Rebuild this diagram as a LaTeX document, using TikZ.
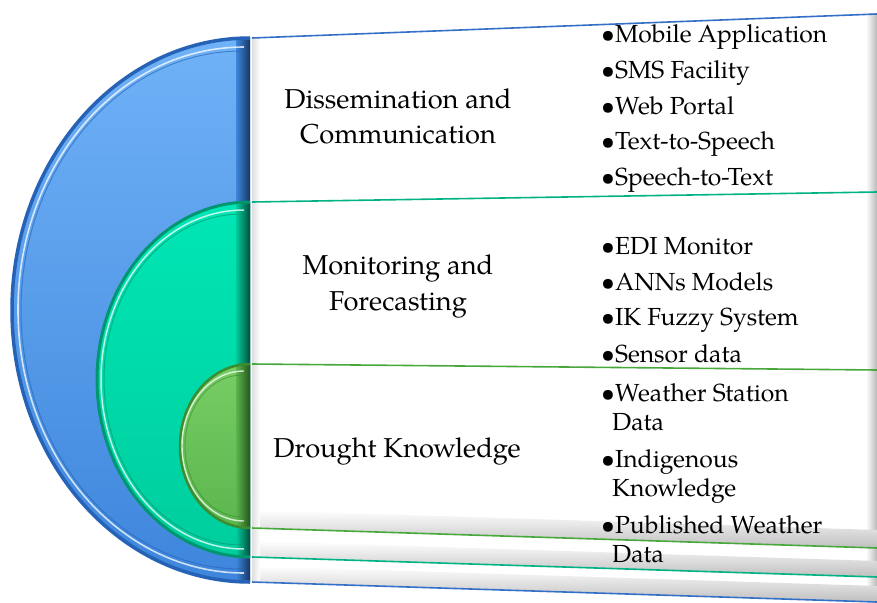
\documentclass[tikz,border=0pt]{standalone}
\usepackage{fontspec}
\setmainfont{TeX Gyre Pagella}
\definecolor{blueA}{RGB}{112,178,247}
\definecolor{blueB}{RGB}{62,134,220}
\definecolor{blueRim}{RGB}{38,98,182}
\definecolor{blueDark}{RGB}{18,48,92}
\definecolor{blueLine}{RGB}{52,112,200}
\definecolor{tealA}{RGB}{0,230,180}
\definecolor{tealB}{RGB}{0,205,158}
\definecolor{tealRim}{RGB}{0,150,112}
\definecolor{tealDark}{RGB}{0,70,50}
\definecolor{tealLine}{RGB}{0,178,132}
\definecolor{greenA}{RGB}{118,205,100}
\definecolor{greenB}{RGB}{92,182,78}
\definecolor{greenRim}{RGB}{60,140,48}
\definecolor{greenDark}{RGB}{34,80,22}
\definecolor{greenLine}{RGB}{72,168,60}
\tikzset{
  titletext/.style={font=\fontsize{27.3}{33}\selectfont, inner sep=0pt, anchor=base},
  itemtext/.style={font=\fontsize{24.7}{30}\selectfont, inner sep=0pt, anchor=base west},
  bandline/.style={line width=1.6pt},
}
\begin{document}
\begin{tikzpicture}[x=1pt,y=-1pt]
\useasboundingbox (0,0) rectangle (877,602);
% ---------- bands ----------
% blue band
\fill[white] (252,38) -- (877,14) -- (877,602) -- (252,582) -- cycle;
\shade[left color=white, right color=gray!55] (866,14) -- (877,14) -- (877,602) -- (866,602) -- cycle;
\shade[top color=white, bottom color=gray!50] (252,566) -- (877,586) -- (877,602) -- (252,582) -- cycle;
\shade[left color=gray!25, right color=white] (252,38) rectangle (260,582);
\draw[bandline, blueLine] (252,38) -- (877,14);
\draw[bandline, blueLine] (252,582) -- (877,602);
% teal band
\fill[white] (252,202) -- (877,192) -- (877,577) -- (252,557) -- cycle;
\shade[left color=white, right color=gray!55] (866,192) -- (877,192) -- (877,577) -- (866,577) -- cycle;
\shade[top color=white, bottom color=gray!50] (252,541) -- (877,561) -- (877,577) -- (252,557) -- cycle;
\shade[left color=gray!25, right color=white] (252,202) rectangle (260,557);
\draw[bandline, tealLine] (252,202) -- (877,192);
\draw[bandline, tealLine] (252,557) -- (877,577);
% green band
\fill[white] (252,364) -- (877,370) -- (877,548) -- (252,528) -- cycle;
\shade[left color=white, right color=gray!55] (866,370) -- (877,370) -- (877,548) -- (866,548) -- cycle;
\shade[top color=white, bottom color=gray!50] (252,510) -- (877,530) -- (877,548) -- (252,528) -- cycle;
\shade[left color=gray!25, right color=white] (252,364) rectangle (260,528);
\draw[bandline, greenLine] (252,364) -- (877,370);
\draw[bandline, greenLine] (252,528) -- (877,548);
% ---------- half discs ----------
% blue
\shade[top color=blueA, bottom color=blueB] (250,38) arc[start angle=270, end angle=90, x radius=238, y radius=272] -- cycle;
\begin{scope}
  \clip (250,38) arc[start angle=270, end angle=90, x radius=238, y radius=272] -- cycle;
  \shade[left color=blueB, right color=blueDark] (236,30) rectangle (251,590);
\end{scope}
\draw[blueRim, line width=3.5pt] (250,38) arc[start angle=270, end angle=90, x radius=238, y radius=272];
\draw[white, opacity=0.75, line width=1.6pt] (244,47) arc[start angle=270, end angle=90, x radius=226, y radius=263];
\draw[blueRim, opacity=0.6, line width=1pt] (242,51) arc[start angle=270, end angle=90, x radius=221, y radius=259];
% teal
\shade[top color=tealA, bottom color=tealB] (250,202) arc[start angle=270, end angle=90, x radius=153, y radius=177.5] -- cycle;
\begin{scope}
  \clip (250,202) arc[start angle=270, end angle=90, x radius=153, y radius=177.5] -- cycle;
  \shade[left color=tealB, right color=tealDark] (236,195) rectangle (251,565);
\end{scope}
\draw[tealRim, line width=3pt] (250,202) arc[start angle=270, end angle=90, x radius=153, y radius=177.5];
\draw[white, opacity=0.75, line width=1.5pt] (244,210) arc[start angle=270, end angle=90, x radius=143, y radius=169.5];
\draw[tealRim, opacity=0.6, line width=1pt] (242,214) arc[start angle=270, end angle=90, x radius=138, y radius=165.5];
% green
\shade[top color=greenA, bottom color=greenB] (250,364) arc[start angle=270, end angle=90, x radius=70, y radius=82] -- cycle;
\begin{scope}
  \clip (250,364) arc[start angle=270, end angle=90, x radius=70, y radius=82] -- cycle;
  \shade[left color=greenB, right color=greenDark] (236,360) rectangle (251,535);
\end{scope}
\draw[greenRim, line width=2.5pt] (250,364) arc[start angle=270, end angle=90, x radius=70, y radius=82];
\draw[white, opacity=0.75, line width=1.4pt] (244,371) arc[start angle=270, end angle=90, x radius=62, y radius=75];
\draw[greenRim, opacity=0.6, line width=0.9pt] (242,375) arc[start angle=270, end angle=90, x radius=57, y radius=71];
% ---------- titles ----------
\node[titletext] (t1a) at (398,108) {Dissemination and};
\node[titletext] (t1b) at (398,143) {Communication};
\node[titletext] (t2a) at (398,274) {Monitoring and};
\node[titletext] (t2b) at (398,310) {Forecasting};
\node[titletext] (t3) at (397,457) {Drought Knowledge};
% ---------- items ----------
\node[itemtext] (i1) at (601,43) {\textbullet Mobile Application};
\node[itemtext] (i2) at (601,78) {\textbullet SMS Facility};
\node[itemtext] (i3) at (601,114) {\textbullet Web Portal};
\node[itemtext] (i4) at (601,149) {\textbullet Text-to-Speech};
\node[itemtext] (i5) at (601,185) {\textbullet Speech-to-Text};
\node[itemtext] (j1) at (601,254) {\textbullet EDI Monitor};
\node[itemtext] (j2) at (601,290) {\textbullet ANNs Models};
\node[itemtext] (j3) at (601,325) {\textbullet IK Fuzzy System};
\node[itemtext] (j4) at (601,362) {\textbullet Sensor data};
\node[itemtext] (k1) at (601,401) {\textbullet Weather Station};
\node[itemtext] (k1b) at (612,430) {Data};
\node[itemtext] (k2) at (601,467) {\textbullet Indigenous};
\node[itemtext] (k2b) at (612,496) {Knowledge};
\node[itemtext] (k3) at (601,533) {\textbullet Published Weather};
\node[itemtext] (k3b) at (612,562) {Data};
\end{tikzpicture}
\end{document}
